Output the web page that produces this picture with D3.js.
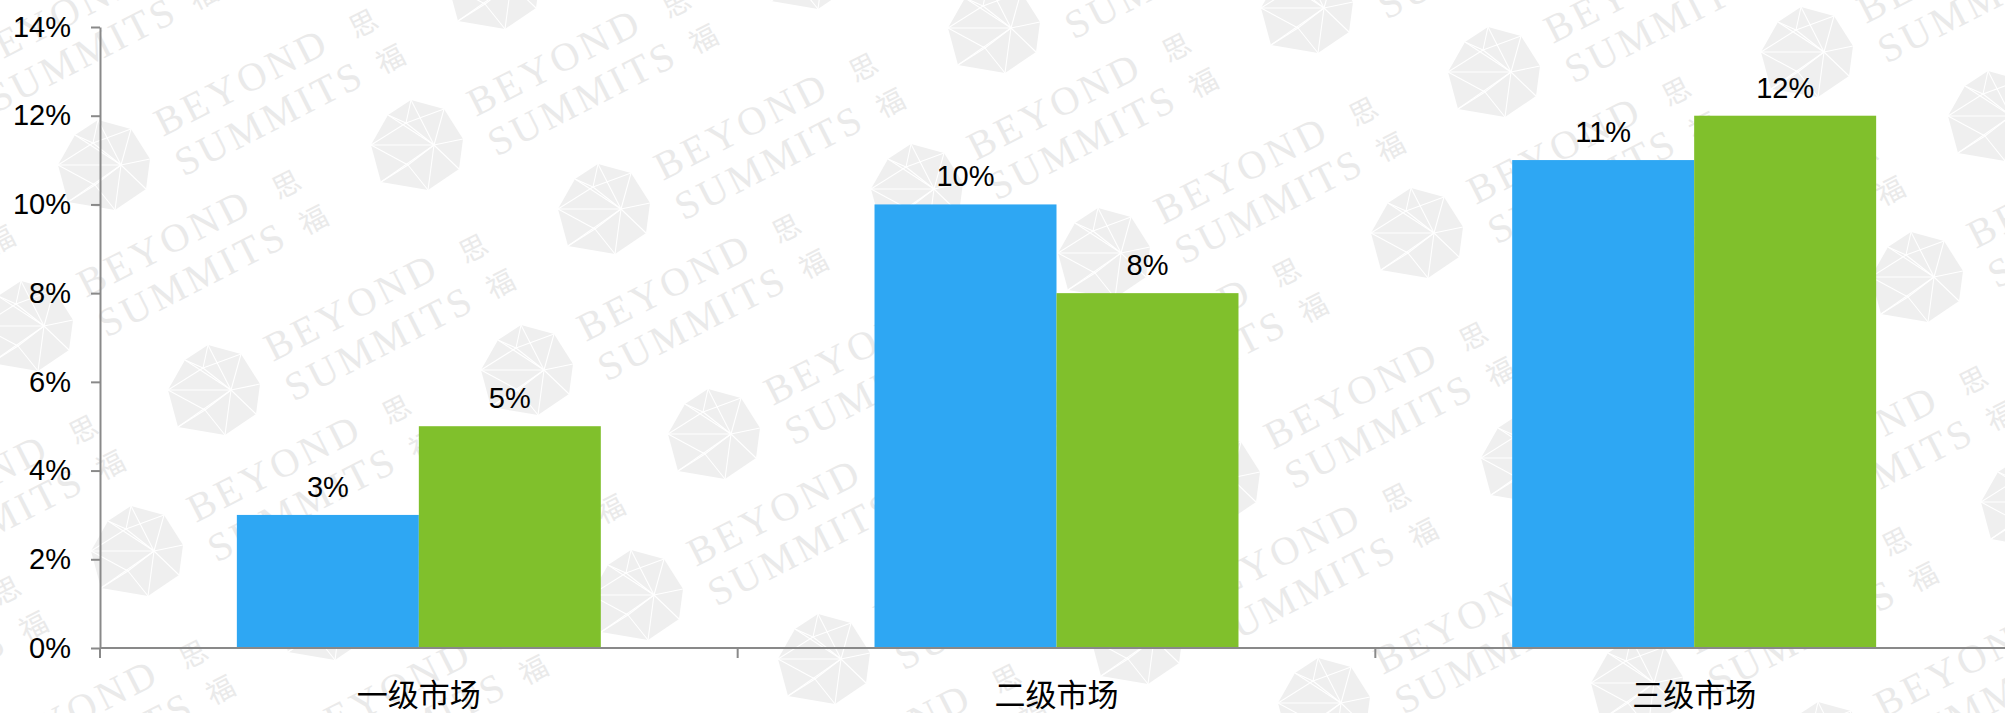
<!DOCTYPE html>
<html>
<head>
<meta charset="utf-8">
<script src="https://cdn.jsdelivr.net/npm/d3@7"></script>
<style>
  html, body { margin: 0; padding: 0; background: #ffffff; overflow: hidden; }
  svg { display: block; }
</style>
</head>
<body>
<svg id="chart" width="2005" height="713"></svg>
<script>
// ---- data ----
const categories = ["一级市场", "二级市场", "三级市场"];
const seriesKeys = ["s1", "s2"];
const series1 = [0.03, 0.10, 0.11];
const series2 = [0.05, 0.08, 0.12];
const yTickValues = [0, 0.02, 0.04, 0.06, 0.08, 0.10, 0.12, 0.14];
const seriesColors = ["#2ea7f3", "#80c02c"];

// ---- layout ----
const W = 2005, H = 713;
const plot = { left: 100, right: 2013, top: 27, bottom: 648 };

const svg = d3.select("#chart");

// ---- background watermark: repeated logo + "BEYOND SUMMITS" ----
const wm = svg.append("g").attr("class", "watermark");
const gem = [[-7,-45],[26,-36],[45,-6],[41,24],[10,45],[-37,37],[-47,0],[-30,-30]];
const hubA = [16, 0], hubB = [-12, -22], hubC = [-10, 20];
const stepA = [500, 44], stepB = [110, 225], pair = [313, -20], origin = [105, 165];

function drawUnit(px, py) {
  const u = wm.append("g").attr("transform", `translate(${px},${py})`);
  u.append("polygon")
    .attr("points", gem.map(p => p.join(",")).join(" "))
    .attr("fill", "#efefef");
  const lines = u.append("g").attr("stroke", "#ffffff").attr("stroke-width", 1.1);
  gem.forEach(v => lines.append("line").attr("x1", hubA[0]).attr("y1", hubA[1]).attr("x2", v[0]).attr("y2", v[1]));
  [0, 7, 6, 1].forEach(i => lines.append("line").attr("x1", hubB[0]).attr("y1", hubB[1]).attr("x2", gem[i][0]).attr("y2", gem[i][1]));
  [6, 5, 4].forEach(i => lines.append("line").attr("x1", hubC[0]).attr("y1", hubC[1]).attr("x2", gem[i][0]).attr("y2", gem[i][1]));
  lines.append("line").attr("x1", hubA[0]).attr("y1", hubA[1]).attr("x2", hubB[0]).attr("y2", hubB[1]);
  lines.append("line").attr("x1", hubA[0]).attr("y1", hubA[1]).attr("x2", hubC[0]).attr("y2", hubC[1]);

  const t = u.append("g").attr("transform", "translate(58,-28) rotate(-27)")
    .attr("fill", "#eaeaea")
    .style("font-family", "'Liberation Serif', 'DejaVu Serif', serif")
    .style("font-size", "40px");
  t.append("text").attr("x", 0).attr("y", 0).style("letter-spacing", "4px").text("BEYOND");
  t.append("text").attr("x", 0).attr("y", 45).style("letter-spacing", "3.5px").text("SUMMITS");
  t.append("text").attr("x", 230).attr("y", -12).attr("text-anchor", "middle")
    .attr("dominant-baseline", "central")
    .style("font-family", "'Noto Sans CJK SC', sans-serif").style("font-size", "28px").text("思");
  t.append("text").attr("x", 238).attr("y", 32).attr("text-anchor", "middle")
    .attr("dominant-baseline", "central")
    .style("font-family", "'Noto Sans CJK SC', sans-serif").style("font-size", "28px").text("福");
}

for (let i = -3; i <= 5; i++) {
  for (let j = -2; j <= 3; j++) {
    const bx = origin[0] + i * stepA[0] + j * stepB[0];
    const by = origin[1] + i * stepA[1] + j * stepB[1];
    [[bx, by], [bx + pair[0], by + pair[1]]].forEach(([x, y]) => {
      if (x > -330 && x < W + 60 && y > -120 && y < H + 110) drawUnit(x, y);
    });
  }
}

// ---- scales ----
const x0 = d3.scaleBand().domain(categories).range([plot.left, plot.right]).paddingInner(0).paddingOuter(0);
const x1 = d3.scaleBand().domain(seriesKeys).range([0, x0.bandwidth()]).paddingInner(0).paddingOuter(0.752);
const y = d3.scaleLinear().domain([0, 0.14]).range([plot.bottom, plot.top]);
const color = d3.scaleOrdinal().domain(seriesKeys).range(seriesColors);

const rows = categories.map((c, i) => ({ cat: c, values: [
  { key: "s1", value: series1[i] },
  { key: "s2", value: series2[i] }
]}));

// ---- bars ----
const groups = svg.append("g").selectAll("g").data(rows).join("g")
  .attr("transform", d => `translate(${x0(d.cat)},0)`);

groups.selectAll("rect").data(d => d.values).join("rect")
  .attr("x", d => x1(d.key))
  .attr("y", d => y(d.value))
  .attr("width", x1.bandwidth())
  .attr("height", d => y(0) - y(d.value))
  .attr("fill", d => color(d.key));

// ---- value labels ----
groups.selectAll("text.val").data(d => d.values).join("text")
  .attr("class", "val")
  .attr("x", d => x1(d.key) + x1.bandwidth() / 2)
  .attr("y", d => y(d.value) - 18)
  .attr("text-anchor", "middle")
  .style("font-family", "'Liberation Sans', Arial, sans-serif")
  .style("font-size", "29px")
  .attr("fill", "#000000")
  .text(d => d3.format(".0%")(d.value));

// ---- y axis ----
const yAxis = svg.append("g")
  .attr("transform", `translate(${plot.left},0)`)
  .call(d3.axisLeft(y).tickValues(yTickValues).tickFormat(d3.format(".0%"))
    .tickSize(9).tickSizeOuter(0).tickPadding(20));
yAxis.select(".domain").attr("stroke", "#898989").attr("stroke-width", 2);
yAxis.selectAll(".tick line").attr("stroke", "#898989").attr("stroke-width", 2);
yAxis.selectAll(".tick text")
  .style("font-family", "'Liberation Sans', Arial, sans-serif")
  .style("font-size", "29px")
  .attr("fill", "#000000");

// ---- x axis ----
const xAxis = svg.append("g");
xAxis.append("line")
  .attr("x1", plot.left).attr("x2", plot.right)
  .attr("y1", y(0)).attr("y2", y(0))
  .attr("stroke", "#898989").attr("stroke-width", 2);
const boundaries = categories.map(c => x0(c)).concat([x0(categories[categories.length - 1]) + x0.bandwidth()]);
xAxis.selectAll("line.tk").data(boundaries).join("line")
  .attr("class", "tk")
  .attr("x1", d => d).attr("x2", d => d)
  .attr("y1", y(0)).attr("y2", y(0) + 10)
  .attr("stroke", "#898989").attr("stroke-width", 2);
xAxis.selectAll("text").data(categories).join("text")
  .attr("x", d => x0(d) + x0.bandwidth() / 2)
  .attr("y", y(0) + 58)
  .attr("text-anchor", "middle")
  .style("font-family", "'Noto Sans CJK SC', sans-serif")
  .style("font-size", "31px")
  .attr("fill", "#000000")
  .text(d => d);
</script>
</body>
</html>
